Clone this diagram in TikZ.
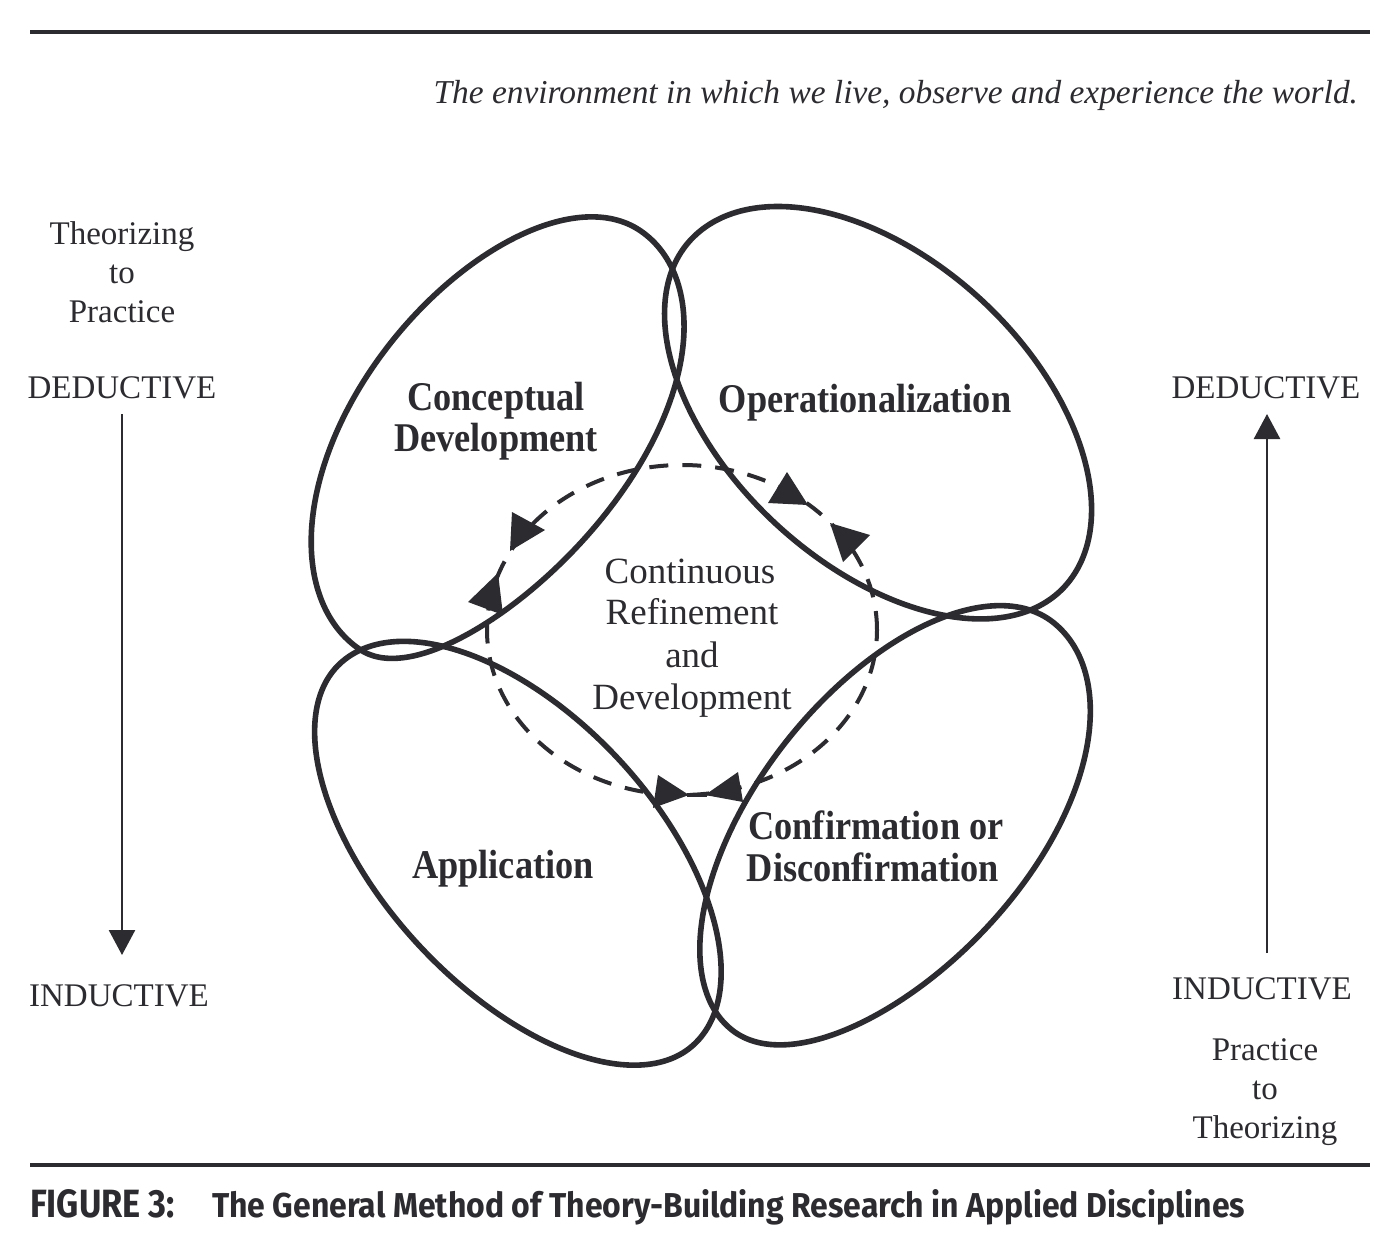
\documentclass[tikz,border=0pt]{standalone}
\usepackage{graphicx}
\usepackage{fontspec}
\setmainfont{Liberation Serif}
\newfontfamily\labfont[FakeStretch=0.89]{Liberation Serif}
\newfontfamily\capfont{Fira Sans}
\usetikzlibrary{arrows.meta}
\definecolor{ink}{RGB}{44,43,48}

% one phase outline: an oval whose two halves (outer / inner) may differ
% #1,#2 centre; #3 half length; #4 axis angle; #5 outer normal angle;
% #6,#7 outer half width and taper; #8,#9 inner half width and taper
\newcommand\eggloop[9]{%
  \def\ecx{#1}\def\ecy{#2}\def\eA{#3}\def\ephi{#4}\def\ephin{#5}%
  \def\eBo{#6}\def\eko{#7}\def\eBi{#8}\def\eki{#9}%
  \draw[egg] plot[domain=0:360, samples=241] ({eggx(\x)}, {eggy(\x)}) -- cycle;}

\begin{document}
\begin{tikzpicture}[x=0.5pt,y=-0.5pt,
  declare function={
    eggr(\t) = ifthenelse(sin(\t)>0, \eBo*(1+\eko*cos(\t)), \eBi*(1+\eki*cos(\t)));
    eggx(\t) = \ecx + \eA*cos(\t)*cos(\ephi) + sin(\t)*eggr(\t)*cos(\ephin);
    eggy(\t) = \ecy + \eA*cos(\t)*sin(\ephi) + sin(\t)*eggr(\t)*sin(\ephin);
  },
  every node/.style={inner sep=0pt, outer sep=0pt, text=ink},
  sidetext/.style={font=\fontsize{16.5}{19.5}\selectfont, anchor=base},
  midtext/.style={font=\fontsize{18.5}{21}\selectfont, anchor=base},
  boldtext/.style={font=\labfont\bfseries\fontsize{20.4}{24}\selectfont, anchor=base},
  egg/.style={draw=ink, line width=2.8pt, line join=round},
  rule/.style={draw=ink, line width=2.3pt},
  sidearrow/.style={draw=ink, line width=1.3pt, -{Triangle[length=12.5pt,width=13pt]}},
  ring/.style={draw=ink, line width=2pt, dash pattern=on 9.5pt off 7pt},
  head/.style={fill=ink}]

\useasboundingbox (0,0) rectangle (1388,1242);
\fill[white] (0,0) rectangle (1388,1242);

% horizontal rules
\draw[rule] (30,32) -- (1370,32);
\draw[rule] (30,1165) -- (1370,1165);

% heading line
\node[anchor=base east, font=\itshape\fontsize{16.7}{20}\selectfont] (env) at (1358,103)
  {The environment in which we live, observe and experience the world.};

% left column
\node[sidetext] (lt1) at (122,244) {Theorizing};
\node[sidetext] (lt2) at (122,283) {to};
\node[sidetext] (lt3) at (122,322) {Practice};
\node[sidetext] (lded) at (122,398) {DEDUCTIVE};
\node[sidetext] (lind) at (119,1006) {INDUCTIVE};
\coordinate (la1) at (122,414);
\coordinate (la2) at (122,955);
\draw[sidearrow] (la1) -- (la2);

% right column
\node[sidetext] (rded) at (1266,398) {DEDUCTIVE};
\node[sidetext] (rind) at (1262,999) {INDUCTIVE};
\node[sidetext] (rt1) at (1265,1060) {Practice};
\node[sidetext] (rt2) at (1265,1099) {to};
\node[sidetext] (rt3) at (1265,1138) {Theorizing};
\coordinate (ra1) at (1267,953);
\coordinate (ra2) at (1267,414);
\draw[sidearrow] (ra1) -- (ra2);

% dashed refinement ring with its arrowheads
\draw[ring] (682,630) ellipse [x radius=97.5pt, y radius=82.5pt];
\fill[head] (512,512) -- (545,530) -- (510,551) -- cycle;
\fill[head] (468,602) -- (498,573) -- (503,615) -- cycle;
\fill[head] (768,503) -- (787,472) -- (808,505) -- cycle;
\fill[head] (830,523) -- (870,535) -- (843,562) -- cycle;
\fill[head] (658,775) -- (689,795) -- (653,808) -- cycle;
\fill[head] (705,795) -- (738,772) -- (743,802) -- cycle;
\draw[ink, line width=2pt] (687,795) -- (707,795);

% the four overlapping phases
\eggloop{500}{440}{252}{-56.3}{-146.3}{146}{-0.06}{129}{0.15}   % conceptual development
\eggloop{877.4}{413.5}{255}{42.9}{-47.1}{154}{0}{150}{0}       % operationalization
\eggloop{517}{854}{260}{47.1}{137.1}{134}{0}{139}{0}           % application
\eggloop{892.6}{826.2}{259.5}{-51.8}{38.2}{138}{0.08}{136}{0}  % confirmation

% phase labels
\node[boldtext] (cd1) at (496,410) {Conceptual};
\node[boldtext] (cd2) at (496,451) {Development};
\node[boldtext] (op) at (865,412) {Operationalization};
\node[boldtext] (ap) at (503,878) {Application};
\node[boldtext] (cf1) at (876,839) {Confirmation or};
\node[boldtext] (cf2) at (873,881) {Disconfirmation};

% centre text
\node[midtext] (c1) at (690,583) {Continuous};
\node[midtext] (c2) at (692,624) {Refinement};
\node[midtext] (c3) at (692,667) {and};
\node[midtext] (c4) at (692,709) {Development};

% caption
\node[anchor=base west] (fig) at (30,1217)
  {\resizebox{72.5pt}{14pt}{\capfont\bfseries FIGURE 3:}};
\node[anchor=base west] (title) at (212,1217)
  {\resizebox{516.5pt}{14pt}{\capfont\bfseries The General Method of Theory-Building Research in Applied Disciplines}};
\end{tikzpicture}
\end{document}
